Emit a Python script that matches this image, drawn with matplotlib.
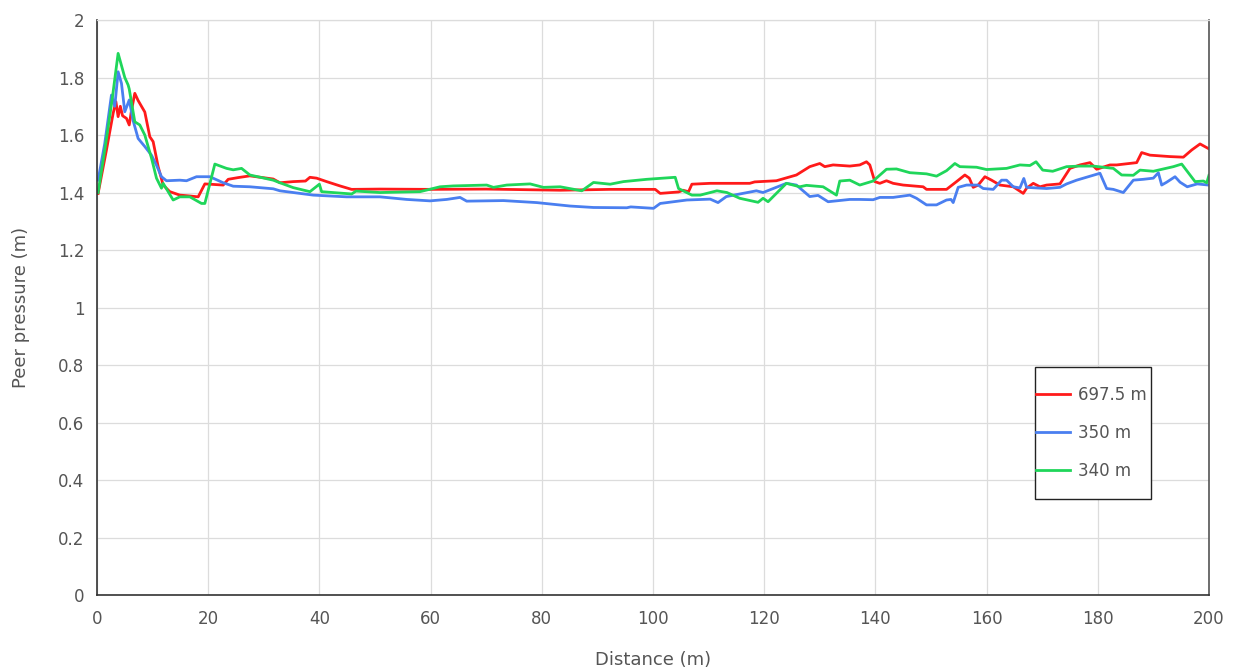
import matplotlib
matplotlib.use("Agg")
import matplotlib.pyplot as plt
from matplotlib.patches import Rectangle

# Pore pressure profiles along the distance for three depths
dist_697 = [0.2, 1.7, 2.9, 3.4, 3.8, 4.2, 4.6, 5.3, 5.8, 6.2, 6.8, 7.4, 8.6, 9.5, 10.1, 11.0,
            11.9, 13.1, 14.9, 16.7, 18.2, 19.4, 22.7, 23.6, 25.4, 27.5, 31.7, 32.9, 35.3, 37.5,
            38.3, 39.5, 41.3, 43.7, 45.8, 50.9, 59.8, 70.0, 83.3, 92.3, 100.4, 101.3, 104.6,
            105.4, 106.4, 107.0, 110.3, 117.4, 118.3, 122.2, 125.8, 128.2, 130.0, 130.9, 132.4,
            135.4, 137.2, 138.4, 139.0, 139.9, 140.8, 142.0, 143.2, 145.0, 148.6, 149.2, 152.8,
            154.6, 156.1, 156.9, 157.6, 158.5, 159.7, 160.9, 162.4, 164.8, 166.6, 167.2, 168.4,
            169.6, 170.8, 173.2, 175.0, 176.8, 178.6, 179.8, 182.2, 183.4, 187.0, 187.9, 189.4,
            193.0, 195.4, 196.9, 198.4, 199.9]
pres_697 = [1.397, 1.548, 1.675, 1.716, 1.664, 1.700, 1.667, 1.658, 1.635, 1.685, 1.745, 1.720,
            1.680, 1.594, 1.577, 1.490, 1.426, 1.403, 1.391, 1.388, 1.385, 1.430, 1.426, 1.446,
            1.452, 1.458, 1.447, 1.434, 1.438, 1.440, 1.453, 1.450, 1.438, 1.423, 1.411, 1.412,
            1.411, 1.412, 1.408, 1.411, 1.411, 1.397, 1.402, 1.408, 1.403, 1.429, 1.432, 1.432,
            1.437, 1.441, 1.461, 1.490, 1.501, 1.490, 1.496, 1.492, 1.496, 1.507, 1.496, 1.438,
            1.432, 1.441, 1.432, 1.426, 1.420, 1.411, 1.411, 1.438, 1.461, 1.450, 1.418, 1.426,
            1.455, 1.443, 1.426, 1.420, 1.397, 1.415, 1.432, 1.420, 1.426, 1.430, 1.484, 1.496,
            1.504, 1.481, 1.496, 1.496, 1.504, 1.539, 1.530, 1.525, 1.523, 1.548, 1.569, 1.553]

dist_350 = [0.2, 1.4, 2.6, 3.2, 3.8, 4.4, 5.0, 5.8, 6.5, 7.4, 8.6, 9.8, 10.7, 11.6, 12.5, 14.9,
            16.1, 17.9, 20.3, 22.7, 24.5, 27.5, 31.7, 32.9, 38.9, 44.9, 50.9, 55.7, 59.9, 62.9,
            65.3, 66.5, 73.1, 79.1, 85.1, 89.3, 95.3, 96.0, 100.1, 101.3, 106.1, 110.3, 111.7,
            113.2, 118.6, 119.8, 124.0, 125.8, 128.2, 129.7, 131.5, 135.4, 137.2, 139.6, 140.8,
            143.2, 146.2, 147.4, 149.2, 151.0, 152.8, 153.6, 154.0, 154.9, 156.4, 158.5, 159.4,
            161.2, 162.7, 163.6, 164.8, 166.0, 166.7, 167.2, 170.8, 173.2, 174.4, 176.2, 180.4,
            181.6, 182.8, 184.6, 186.4, 188.2, 190.0, 190.9, 191.5, 192.4, 193.9, 194.8, 196.1,
            197.9, 199.9]
pres_350 = [1.443, 1.571, 1.739, 1.700, 1.820, 1.780, 1.681, 1.722, 1.650, 1.588, 1.560, 1.530,
            1.495, 1.455, 1.441, 1.443, 1.441, 1.455, 1.455, 1.434, 1.422, 1.420, 1.413, 1.406,
            1.391, 1.385, 1.385, 1.376, 1.371, 1.376, 1.383, 1.370, 1.372, 1.365, 1.353, 1.348,
            1.347, 1.350, 1.345, 1.362, 1.374, 1.377, 1.365, 1.386, 1.406, 1.400, 1.432, 1.426,
            1.386, 1.390, 1.368, 1.376, 1.376, 1.375, 1.383, 1.383, 1.391, 1.380, 1.357, 1.357,
            1.374, 1.376, 1.365, 1.418, 1.426, 1.426, 1.414, 1.411, 1.443, 1.443, 1.420, 1.416,
            1.449, 1.418, 1.414, 1.418, 1.430, 1.443, 1.467, 1.414, 1.411, 1.400, 1.443, 1.446,
            1.450, 1.469, 1.426, 1.436, 1.455, 1.436, 1.420, 1.430, 1.426]

dist_340 = [0.2, 1.5, 2.7, 3.8, 5.0, 5.6, 5.8, 6.8, 7.7, 8.6, 9.8, 10.7, 11.6, 11.9, 13.7, 14.9,
            16.7, 18.8, 19.4, 21.2, 23.3, 24.5, 26.0, 27.5, 31.7, 32.9, 35.3, 38.3, 40.0, 40.4,
            42.4, 45.8, 46.6, 50.9, 58.1, 61.7, 64.1, 70.1, 71.3, 73.7, 77.9, 80.3, 83.3, 87.2,
            89.3, 92.3, 94.7, 98.9, 104.0, 104.6, 107.0, 108.5, 111.5, 113.3, 115.6, 118.9,
            119.8, 120.7, 124.0, 126.4, 127.6, 130.6, 133.0, 133.6, 135.4, 137.2, 139.6, 142.0,
            143.8, 146.2, 149.2, 151.0, 152.8, 154.3, 155.2, 158.2, 160.0, 163.6, 166.0, 167.8,
            168.9, 170.1, 171.9, 174.4, 176.8, 179.2, 182.8, 184.3, 186.4, 187.6, 190.0, 193.6,
            195.1, 197.5, 199.0, 199.6, 200.0]
pres_340 = [1.400, 1.560, 1.720, 1.884, 1.800, 1.774, 1.760, 1.646, 1.635, 1.600, 1.520, 1.450,
            1.415, 1.432, 1.374, 1.385, 1.385, 1.362, 1.362, 1.499, 1.484, 1.479, 1.484, 1.461,
            1.443, 1.434, 1.417, 1.403, 1.429, 1.403, 1.400, 1.395, 1.405, 1.400, 1.403, 1.420,
            1.423, 1.426, 1.418, 1.426, 1.430, 1.418, 1.420, 1.406, 1.435, 1.429, 1.438, 1.446,
            1.453, 1.414, 1.391, 1.391, 1.406, 1.400, 1.380, 1.366, 1.380, 1.368, 1.432, 1.420,
            1.425, 1.420, 1.391, 1.440, 1.443, 1.426, 1.440, 1.481, 1.482, 1.469, 1.465, 1.457,
            1.476, 1.501, 1.490, 1.488, 1.480, 1.484, 1.496, 1.494, 1.507, 1.478, 1.474, 1.490,
            1.492, 1.492, 1.484, 1.461, 1.460, 1.478, 1.474, 1.490, 1.499, 1.438, 1.440, 1.434,
            1.460]

series_labels = ["697.5 m", "350 m", "340 m"]
series_colors = ["#ff1a1a", "#4a7ff0", "#1fd65a"]

x_ticks = list(range(0, 201, 20))
y_ticks = [0, 0.2, 0.4, 0.6, 0.8, 1, 1.2, 1.4, 1.6, 1.8, 2]
y_tick_labels = ["0", "0.2", "0.4", "0.6", "0.8", "1", "1.2", "1.4", "1.6", "1.8", "2"]

text_color = "#555555"

fig = plt.figure(figsize=(12.34, 6.70), dpi=100)
ax = fig.add_axes([0.0786, 0.1119, 0.9011, 0.8582])

data = [(dist_697, pres_697), (dist_350, pres_350), (dist_340, pres_340)]
for (d, p), lab, col in zip(data, series_labels, series_colors):
    ax.plot(d, p, color=col, lw=2.0, label=lab, solid_joinstyle="round")

ax.set_xlim(0, 200)
ax.set_ylim(0, 2)
ax.set_xticks(x_ticks)
ax.set_yticks(y_ticks)
ax.set_yticklabels(y_tick_labels)
ax.tick_params(axis="x", length=0, labelsize=12, labelcolor=text_color, pad=11)
ax.tick_params(axis="y", length=0, labelsize=12, labelcolor=text_color, pad=9)
ax.grid(True, color="#dcdcdc", lw=0.9)
ax.set_axisbelow(True)

for side in ("left", "bottom"):
    ax.spines[side].set_color("#333333")
    ax.spines[side].set_linewidth(1.2)
ax.spines["right"].set_color("#555555")
ax.spines["right"].set_linewidth(1.2)
ax.spines["top"].set_color("#dcdcdc")
ax.spines["top"].set_linewidth(0.9)

ax.set_xlabel("Distance (m)", fontsize=13, color=text_color, labelpad=16)
ax.set_ylabel("Peer pressure (m)", fontsize=13, color=text_color, labelpad=20)

# Legend box drawn as a plain frame, entries placed inside it
ax.add_patch(Rectangle((0.8435, 0.167), 0.1043, 0.2295, transform=ax.transAxes,
                       facecolor="white", edgecolor="#222222", lw=1.0, zorder=5))
leg = ax.legend(loc="upper left", bbox_to_anchor=(0.8445, 0.3635), fontsize=12,
                frameon=False, handlelength=2.05, handletextpad=0.45,
                labelspacing=1.2, borderpad=0, borderaxespad=0)
leg.set_zorder(6)
for t in leg.get_texts():
    t.set_color(text_color)

fig.savefig("out.png", dpi=100)
